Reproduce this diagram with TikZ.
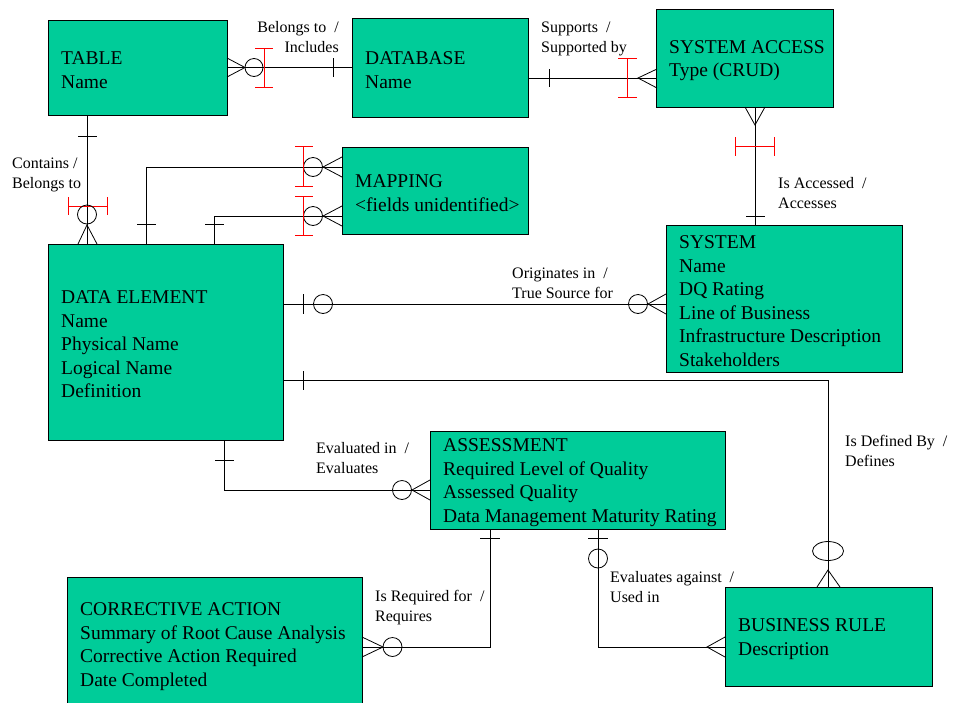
\documentclass[tikz,border=0pt]{standalone}
\usepackage{fontspec}
\setmainfont{Liberation Serif}
\definecolor{erg}{RGB}{0,204,153}
\begin{document}
\begin{tikzpicture}[x=1pt,y=-1pt,
  ent/.style={draw=black, fill=erg, anchor=north west, inner sep=0pt, outer sep=0pt, line width=0.9pt},
  etxt/.style={anchor=west, align=left, inner sep=0pt, xshift=13pt, yshift=-2.5pt, font=\fontsize{19.5}{23.5}\selectfont},
  lbl/.style={anchor=base west, inner sep=0pt, align=left, font=\fontsize{16}{20}\selectfont},
  lblr/.style={anchor=base east, inner sep=0pt, align=right, font=\fontsize{16}{20}\selectfont},
  rel/.style={line width=0.8pt, black},
  redbar/.style={line width=0.8pt, red}]
\useasboundingbox[fill=white] (0,0) rectangle (953,702);
% entities
\node[ent, minimum width=179pt, minimum height=95pt] (tbl) at (48,20) {};
\node[etxt] (tblt) at (tbl.west) {TABLE\\Name};
\node[ent, minimum width=176pt, minimum height=99pt] (db) at (352,18) {};
\node[etxt] (dbt) at (db.west) {DATABASE\\Name};
\node[ent, minimum width=177pt, minimum height=98pt] (sa) at (656,9) {};
\node[etxt] (sat) at (sa.west) {SYSTEM ACCESS\\Type (CRUD)};
\node[ent, minimum width=186pt, minimum height=87pt] (map) at (342,147) {};
\node[etxt] (mapt) at (map.west) {MAPPING\\\textless fields unidentified\textgreater};
\node[ent, minimum width=236pt, minimum height=147pt] (sys) at (666,225) {};
\node[etxt] (syst) at (sys.west) {SYSTEM\\Name\\DQ Rating\\Line of Business\\Infrastructure Description\\Stakeholders};
\node[ent, minimum width=235pt, minimum height=196pt] (de) at (48,244) {};
\node[etxt] (det) at (de.west) {DATA ELEMENT\\Name\\Physical Name\\Logical Name\\Definition};
\node[ent, minimum width=295pt, minimum height=98pt] (as) at (430,431) {};
\node[etxt] (ast) at (as.west) {ASSESSMENT\\Required Level of Quality\\Assessed Quality\\Data Management Maturity Rating};
\node[ent, minimum width=295pt, minimum height=134pt] (ca) at (67,577) {};
\node[etxt] (cat) at (ca.west) {CORRECTIVE ACTION\\Summary of Root Cause Analysis\\Corrective Action Required\\Date Completed};
\node[ent, minimum width=207pt, minimum height=99pt] (br) at (725,587) {};
\node[etxt] (brt) at (br.west) {BUSINESS RULE\\Description};
% helper coordinates
\coordinate (c2) at (0,78);
\coordinate (c3) at (755,0);
\coordinate (c4) at (87,0);
\coordinate (c5a) at (146,167);
\coordinate (c5b) at (214,216);
\coordinate (c6) at (0,304);
\coordinate (c7) at (0,380);
\coordinate (c8) at (224,490);
\coordinate (c9) at (490,647);
\coordinate (c10) at (598,647);
% 1 TABLE - DATABASE
\draw[rel] (tbl.east) -- (db.west);
\draw[rel] (227,58) -- (245,67.5) -- (227,77);
\draw[rel] (254,67.5) circle (9);
\draw[redbar] (264,48) -- (264,87) (255,48) -- (273,48) (255,87) -- (273,87);
\draw[rel] (333,58) -- (333,77);
\node[lblr] (l1) at (339,52) {Belongs to~~/\\Includes};
% 2 DATABASE - SYSTEM ACCESS
\draw[rel] (db.east |- c2) -- (sa.west |- c2);
\draw[rel] (549,69) -- (549,87);
\draw[redbar] (627,58) -- (627,97) (618,58) -- (637,58) (618,97) -- (637,97);
\draw[rel] (657,69) -- (638,78) -- (657,88);
\node[lbl] (l2) at (541,52) {Supports~~/\\Supported by};
% 3 SYSTEM ACCESS - SYSTEM
\draw[rel] (sa.south -| c3) -- (sys.north -| c3);
\draw[rel] (745,107) -- (755,125) -- (765,107);
\draw[redbar] (735,146) -- (774,146) (735,137) -- (735,156) (774,137) -- (774,156);
\draw[rel] (746,216) -- (765,216);
\node[lbl] (l3) at (778,208) {Is Accessed~~/\\Accesses};
% 4 TABLE - DATA ELEMENT
\draw[rel] (tbl.south -| c4) -- (de.north -| c4);
\draw[rel] (78,136) -- (97,136);
\draw[redbar] (68,206) -- (107,206) (68,197) -- (68,215) (107,197) -- (107,215);
\draw[rel] (87,214.5) circle (9.5);
\draw[rel] (78,244) -- (87,225) -- (97,244);
\node[lbl] (l4) at (12,188) {Contains /\\Belongs to};
% 5 DATA ELEMENT - MAPPING
\draw[rel] (de.north -| c5a) |- (map.west |- c5a);
\draw[rel] (de.north -| c5b) |- (map.west |- c5b);
\draw[rel] (137,224) -- (156,224) (205,224) -- (224,224);
\draw[rel] (342,157) -- (323,167) -- (342,177) (342,206) -- (323,216) -- (342,226);
\draw[rel] (313,167) circle (9.5) (313,216) circle (9.5);
\draw[redbar] (303,146) -- (303,186) (295,146) -- (313,146) (295,186) -- (313,186);
\draw[redbar] (303,196) -- (303,235) (295,196) -- (313,196) (295,235) -- (313,235);
% 6 DATA ELEMENT - SYSTEM
\draw[rel] (de.east |- c6) -- (sys.west |- c6);
\draw[rel] (303,294) -- (303,314);
\draw[rel] (323,304) circle (9.5) (638,304) circle (9.5);
\draw[rel] (666,294) -- (648,304) -- (666,314);
\node[lbl] (l6) at (512,298) {Originates in~~/\\True Source for};
% 7 DATA ELEMENT - BUSINESS RULE
\draw[rel] (de.east |- c7) -| (br.north);
\draw[rel] (303,371) -- (303,390);
\draw[rel] (828,551) ellipse (15.5 and 9.5);
\draw[rel] (817,587) -- (828,570) -- (840,587);
\node[lbl] (l7) at (845,466) {Is Defined By~~/\\Defines};
% 8 DATA ELEMENT - ASSESSMENT
\draw[rel] (de.south -| c8) |- (as.west |- c8);
\draw[rel] (215,460) -- (234,460);
\draw[rel] (402,490) circle (9.5);
\draw[rel] (430,480) -- (412,490) -- (430,500);
\node[lbl] (l8) at (316,473) {Evaluated in~~/\\Evaluates};
% 9 ASSESSMENT - CORRECTIVE ACTION
\draw[rel] (as.south -| c9) |- (ca.east |- c9);
\draw[rel] (480,538) -- (500,538);
\draw[rel] (392.5,647) circle (9.5);
\draw[rel] (362,637) -- (383,647) -- (362,657);
\node[lbl] (l9) at (375,621) {Is Required for~~/\\Requires};
% 10 ASSESSMENT - BUSINESS RULE
\draw[rel] (as.south -| c10) |- (br.west |- c10);
\draw[rel] (588,538) -- (608,538);
\draw[rel] (598,558.5) circle (9.5);
\draw[rel] (725,637) -- (707,647) -- (725,657);
\node[lbl] (l10) at (610,602) {Evaluates against~~/\\Used in};
\end{tikzpicture}
\end{document}
